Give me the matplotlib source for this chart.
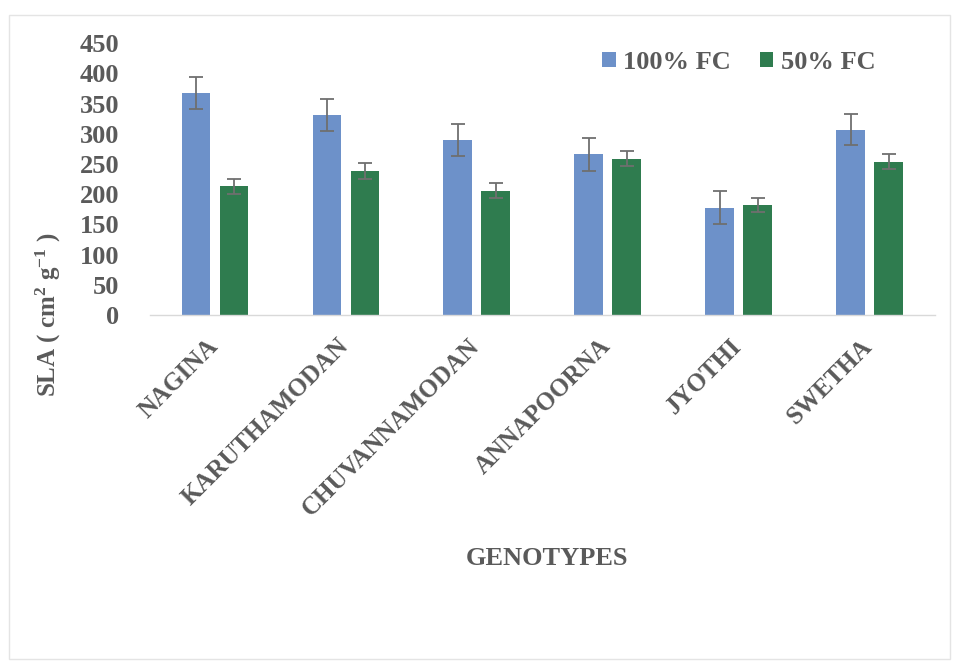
import matplotlib
matplotlib.use("Agg")
import matplotlib.pyplot as plt
import matplotlib.transforms as mtransforms
from matplotlib.patches import Rectangle
import numpy as np

genotypes = ["NAGINA", "KARUTHAMODAN", "CHUVANNAMODAN", "ANNAPOORNA", "JYOTHI", "SWETHA"]
sla_100fc = [368, 331, 290, 266, 178, 307]
err_100fc = [26, 26, 26, 27, 28, 26]
sla_50fc = [213, 238, 206, 259, 182, 254]
err_50fc = [12, 13, 12, 13, 12, 13]
series_names = ["100% FC", "50% FC"]
y_ticks = [0, 50, 100, 150, 200, 250, 300, 350, 400, 450]

blue = "#6d91c9"
green = "#2f7c4f"
text_grey = "#5a5a5a"

plt.rcParams["font.family"] = ["Liberation Serif", "DejaVu Serif"]
plt.rcParams["font.weight"] = "bold"
plt.rcParams["mathtext.fontset"] = "custom"
plt.rcParams["mathtext.rm"] = "Liberation Serif:bold"
plt.rcParams["mathtext.bf"] = "Liberation Serif:bold"
plt.rcParams["mathtext.default"] = "bf"

fig = plt.figure(figsize=(9.59, 6.66), dpi=100)
ax = fig.add_axes([0.156, 0.527, 0.819, 0.408])

x = np.arange(len(genotypes))
w = 0.22
off = 0.145
err_kw = dict(ecolor="#6f6f6f", elinewidth=1.3, capsize=5, capthick=1.3)
ax.bar(x - off, sla_100fc, w, yerr=err_100fc, color=blue, label=series_names[0],
       error_kw=err_kw, zorder=2)
ax.bar(x + off, sla_50fc, w, yerr=err_50fc, color=green, label=series_names[1],
       error_kw=err_kw, zorder=2)

ax.set_xlim(-0.5, len(genotypes) - 0.5)
ax.set_ylim(0, 450)
ax.set_yticks(y_ticks)
ax.set_yticklabels([str(t) for t in y_ticks], fontsize=19, fontweight="bold", color=text_grey)
ax.set_xticks(x)
ax.set_xticklabels(genotypes, rotation=45, ha="right", rotation_mode="anchor",
                   fontsize=18, fontweight="bold", color=text_grey)
ax.tick_params(axis="both", length=0)
ax.tick_params(axis="y", pad=22)
ax.tick_params(axis="x", pad=14)

# nudge the slanted category labels slightly to the left
shift = mtransforms.ScaledTranslation(-9 / 100, 0, fig.dpi_scale_trans)
for lbl in ax.get_xticklabels():
    lbl.set_transform(lbl.get_transform() + shift)

for s in ["top", "right", "left"]:
    ax.spines[s].set_visible(False)
ax.spines["bottom"].set_color("#d9d9d9")
ax.spines["bottom"].set_linewidth(1.0)

fig.text(0.051, 0.528, r"SLA ( cm$^{2}$ g$^{-1}$ )", rotation=90,
         ha="center", va="center", fontsize=18, fontweight="bold", color=text_grey)
fig.text(0.570, 0.162, "GENOTYPES", ha="center", va="center",
         fontsize=19, fontweight="bold", color=text_grey)

leg = ax.legend(loc="upper right", bbox_to_anchor=(0.955, 1.06), ncol=2, frameon=False,
                fontsize=19, handlelength=0.5, handleheight=0.5, handletextpad=0.3,
                columnspacing=1.1)
for t in leg.get_texts():
    t.set_color(text_grey)
    t.set_fontweight("bold")

fig.patches.append(Rectangle((0.009, 0.01), 0.982, 0.968, transform=fig.transFigure,
                             fill=False, edgecolor="#e4e4e4", linewidth=1.0))

fig.savefig("out.png", dpi=100, facecolor="white")
